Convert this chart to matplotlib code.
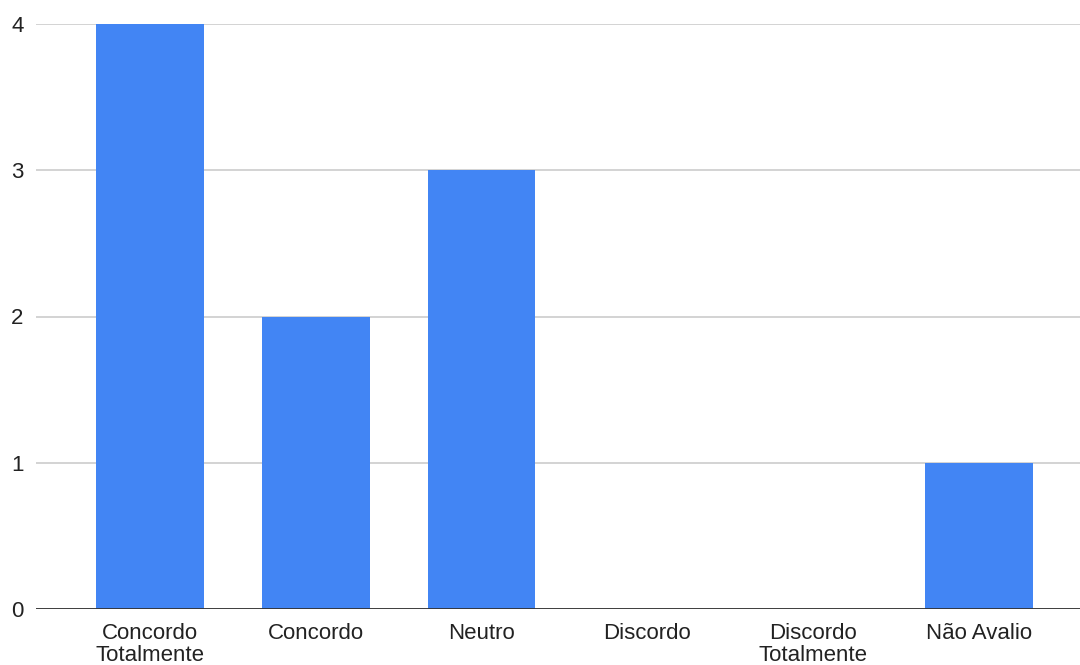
import matplotlib

matplotlib.use("Agg")

import matplotlib.pyplot as plt

plt.rcParams["font.family"] = ["Liberation Sans", "DejaVu Sans"]

CATEGORIES = [
    "Concordo\nTotalmente",
    "Concordo",
    "Neutro",
    "Discordo",
    "Discordo\nTotalmente",
    "Não Avalio",
]
COUNTS = [4, 2, 3, 0, 0, 1]
Y_TICKS = [0, 1, 2, 3, 4]

BAR_COLOR = "#4285f4"


def main() -> None:
    fig = plt.figure(figsize=(10.8, 6.65), dpi=100)
    ax = fig.add_axes([36 / 1080, 56 / 665, 1044 / 1080, 585 / 665])

    xs = list(range(len(CATEGORIES)))
    ax.bar(xs, COUNTS, width=0.65, color=BAR_COLOR, zorder=3)

    ax.set_xlim(-0.688, 5.61)
    ax.set_ylim(0, 4)
    ax.set_yticks(Y_TICKS)
    ax.set_yticklabels([str(v) for v in Y_TICKS])
    ax.set_xticks(xs)
    ax.set_xticklabels(CATEGORIES, linespacing=1.08)

    ax.grid(axis="y", color="#cccccc", linewidth=1.2, zorder=0)
    ax.axhline(0, color="#333333", linewidth=1.3, zorder=4)
    for side in ("top", "right", "left", "bottom"):
        ax.spines[side].set_visible(False)

    ax.tick_params(axis="both", length=0, labelsize=16, colors="#222222")
    ax.tick_params(axis="y", pad=9)
    ax.tick_params(axis="x", pad=10)

    fig.savefig("out.png", dpi=100)
    plt.close(fig)


if __name__ == "__main__":
    main()
